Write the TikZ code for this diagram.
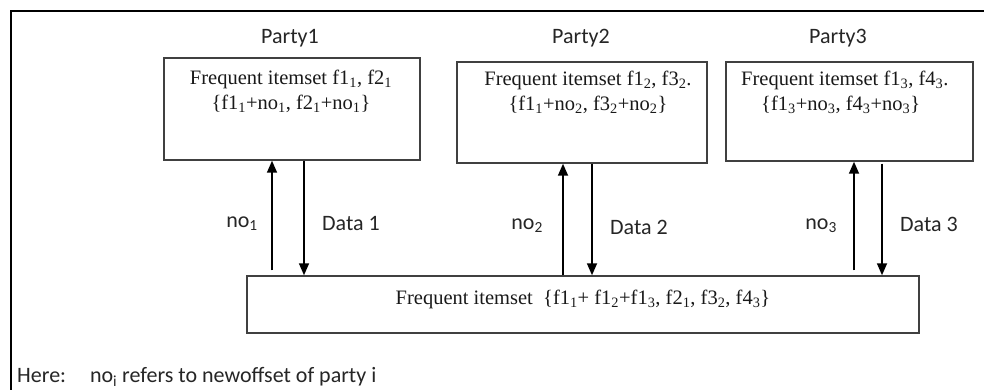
\documentclass[tikz,border=0pt]{standalone}
\usepackage{fontspec}
\setmainfont{Liberation Serif}
\newfontfamily\labelfont{Carlito}
\usetikzlibrary{arrows.meta}

\begin{document}
\begin{tikzpicture}[x=1pt,y=-1pt,
  partybox/.style={draw=black!75,line width=1.5pt,rectangle,inner sep=0pt},
  boxtext/.style={font=\fontsize{20.5}{25}\selectfont,align=center,inner sep=0pt,text=black!90},
  sanslabel/.style={font=\labelfont\fontsize{22}{25}\selectfont,inner sep=0pt,text=black!85},
  flow/.style={line width=1.7pt,-{Triangle[length=12pt,width=10pt]}}]

  % canvas
  \useasboundingbox (0,0) rectangle (984,390);
  \fill[white] (0,0) rectangle (984,390);

  % surrounding frame (top and left edges)
  \draw[line width=2pt,black] (11,390) -- (11,11) -- (984,11);

  % party boxes and the combined box
  \node[partybox,minimum width=256pt,minimum height=102pt] (p1) at (292,109) {};
  \node[partybox,minimum width=250pt,minimum height=101pt] (p2) at (582,112.5) {};
  \node[partybox,minimum width=247pt,minimum height=99pt]  (p3) at (849.5,111.5) {};
  \node[partybox,minimum width=672pt,minimum height=57pt]  (all) at (583,304.5) {};

  % party titles
  \node[sanslabel] (t1) at (290,38) {Party1};
  \node[sanslabel] (t2) at (581,38) {Party2};
  \node[sanslabel] (t3) at (838,38) {Party3};

  % texts inside the boxes
  \node[boxtext,anchor=north] (x1) at (291,70)
    {Frequent itemset f1\textsubscript{1}, f2\textsubscript{1}\\
     \{f1\textsubscript{1}+no\textsubscript{1}, f2\textsubscript{1}+no\textsubscript{1}\}};
  \node[boxtext,anchor=north] (x2) at (588,71)
    {Frequent itemset f1\textsubscript{2}, f3\textsubscript{2}.\\
     \{f1\textsubscript{1}+no\textsubscript{2}, f3\textsubscript{2}+no\textsubscript{2}\}};
  \node[boxtext,align=left,anchor=north west] (x3) at (741,71)
    {Frequent itemset f1\textsubscript{3}, f4\textsubscript{3}.\\
     \hspace*{20pt}\{f1\textsubscript{3}+no\textsubscript{3}, f4\textsubscript{3}+no\textsubscript{3}\}};
  \node[boxtext] (xall) at (583,299)
    {Frequent itemset\ \ \{f1\textsubscript{1}+ f1\textsubscript{2}+f1\textsubscript{3},
     f2\textsubscript{1}, f3\textsubscript{2}, f4\textsubscript{3}\}};

  % arrow columns
  \coordinate (u1) at (272,0);  \coordinate (d1) at (304,0);
  \coordinate (u2) at (563,0);  \coordinate (d2) at (592,0);
  \coordinate (u3) at (854,0);  \coordinate (d3) at (882,0);

  % offsets sent up, data sent down
  \draw[flow] ([yshift=5pt]all.north -| u1) -- (p1.south -| u1);
  \draw[flow] (p1.south -| d1) -- (all.north -| d1);
  \draw[flow] (all.north -| u2) -- (p2.south -| u2);
  \draw[flow] (p2.south -| d2) -- (all.north -| d2);
  \draw[flow] ([yshift=5pt]all.north -| u3) -- (p3.south -| u3);
  \draw[flow] ([yshift=-2pt]p3.south -| d3) -- (all.north -| d3);

  % arrow labels
  \node[sanslabel,anchor=east] (n1) at (258,224) {no\textsubscript{1}};
  \node[sanslabel,anchor=east] (n2) at (543,226) {no\textsubscript{2}};
  \node[sanslabel,anchor=east] (n3) at (837,226) {no\textsubscript{3}};
  \node[sanslabel,anchor=west] (l1) at (322,224) {Data 1};
  \node[sanslabel,anchor=west] (l2) at (610,227) {Data 2};
  \node[sanslabel,anchor=west] (l3) at (900,224) {Data 3};

  % footnote
  \node[sanslabel,anchor=west] (note) at (17,377)
    {Here:\hspace{24pt}no\textsubscript{i} refers to newoffset of party i};
\end{tikzpicture}
\end{document}
